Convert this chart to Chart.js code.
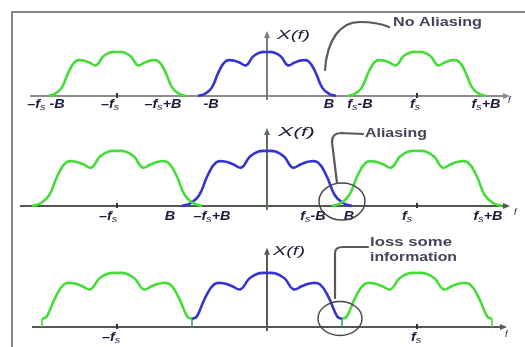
<!DOCTYPE html>
<html>
<head>
<meta charset="utf-8">
<script src="https://cdn.jsdelivr.net/npm/chart.js@4"></script>
<style>
html, body { margin: 0; padding: 0; background: #fff; overflow: hidden; }
#wrap { position: relative; width: 525px; height: 347px; overflow: hidden; background: #fff; }
.edge { position: absolute; background: #858585; }
canvas { position: absolute; left: 0; }
</style>
</head>
<body>
<div id="wrap">
    <div class="edge" style="left:11px;top:11px;width:2px;height:336px"></div>
    <div class="edge" style="left:11px;top:11px;width:514px;height:2px"></div>
    <canvas id="p1" width="525" height="115" style="top:0px"></canvas>
    <canvas id="p2" width="525" height="113" style="top:115px"></canvas>
    <canvas id="p3" width="525" height="119" style="top:228px"></canvas>
</div>
<script>
// spectrum shape of X(f): offset in units of B, amplitude relative to the peak
const shapeU = [-1, -0.9, -0.8, -0.7, -0.6, -0.5, -0.4, -0.3, -0.2, -0.1, 0, 0.1, 0.2, 0.3, 0.4, 0.5, 0.6, 0.7, 0.8, 0.9, 1];
const shapeA = [0, 0.05, 0.19, 0.55, 0.79, 0.81, 0.76, 0.70, 0.9, 0.99, 1, 0.99, 0.9, 0.70, 0.76, 0.81, 0.79, 0.55, 0.19, 0.05, 0];

const fs = 150;                 // sampling frequency
const bandB = [69, 85, 88];     // bandwidth B in each panel
const cut3 = fs / 2;            // panel 3: spectrum cut at fs/2
const edgeLevel3 = 0.15;        // height left at the cut

// tick labels ("_s" = small s)
const labels1 = ["–f_s -B", "–f_s", "–f_s+B", "-B", "B", "f_s-B", "f_s", "f_s+B"];
const labels2 = ["–f_s", "B", "–f_s+B", "f_s-B", "B", "f_s", "f_s+B"];
const labels3 = ["–f_s", "f_s"];

const GREEN = "#45dc38";
const BLUE = "#3434d0";
const TEAL = "#2f9a94";
const INK = "#1c1c3c";

function replica(center, B, color) {
    return {
        data: shapeU.map((u, i) => ({ x: center + u * B, y: shapeA[i] })),
        borderColor: color
    };
}

function cutReplica(center, B, color) {
    const pts = [{ x: center - cut3, y: edgeLevel3 }];
    shapeU.forEach((u, i) => {
        if (Math.abs(u * B) < cut3) pts.push({ x: center + u * B, y: shapeA[i] });
    });
    pts.push({ x: center + cut3, y: edgeLevel3 });
    return { data: pts, borderColor: color };
}

function drop(x, color) {
    return { data: [{ x: x, y: 0 }, { x: x, y: edgeLevel3 }], borderColor: color, borderWidth: 1.6, tension: 0 };
}

function drawRich(ctx, str, cx, cy, size, sx) {
    const parts = [];
    for (let i = 0; i < str.length; i++) {
        if (str[i] === '_') { parts.push({ t: str[i + 1], small: true }); i++; }
        else parts.push({ t: str[i], small: false });
    }
    const big = `italic bold ${size}px "Liberation Sans", Arial, sans-serif`;
    const small = `italic ${Math.round(size * 0.75)}px "Liberation Sans", Arial, sans-serif`;
    let w = 0;
    parts.forEach(p => { ctx.font = p.small ? small : big; p.w = ctx.measureText(p.t).width; w += p.w; });
    ctx.save();
    ctx.translate(cx, cy);
    ctx.scale(sx, 1);
    ctx.fillStyle = INK;
    ctx.textBaseline = 'middle';
    let x = -w / 2;
    parts.forEach(p => {
        ctx.font = p.small ? small : big;
        ctx.fillText(p.t, x, p.small ? 2 : 0);
        x += p.w;
    });
    ctx.restore();
}

function drawText(ctx, str, left, cy, size, width, color, weight) {
    ctx.save();
    ctx.font = `${weight || 'normal'} ${size}px "Liberation Sans", Arial, sans-serif`;
    const m = ctx.measureText(str).width;
    ctx.translate(left, cy);
    ctx.scale(width / m, 1);
    ctx.fillStyle = color;
    ctx.textBaseline = 'middle';
    ctx.fillText(str, 0, 0);
    ctx.restore();
}

function makeAxisPlugin(o) {
    return {
        id: 'axisPlugin',
        beforeDatasetsDraw(chart) {
            const ctx = chart.ctx, xs = chart.scales.x, ys = chart.scales.y;
            const y0 = ys.getPixelForValue(0);
            const xa = xs.getPixelForValue(o.from), xb = xs.getPixelForValue(o.to);
            const x0 = xs.getPixelForValue(0);
            const yt = ys.getPixelForValue(o.vTop);
            ctx.save();
            // horizontal axis
            ctx.strokeStyle = o.color; ctx.lineWidth = 2;
            ctx.beginPath(); ctx.moveTo(xa, y0); ctx.lineTo(xb - 3, y0); ctx.stroke();
            ctx.fillStyle = o.color;
            ctx.beginPath(); ctx.moveTo(xb + 2, y0); ctx.lineTo(xb - 5, y0 - 3); ctx.lineTo(xb - 5, y0 + 3); ctx.closePath(); ctx.fill();
            // vertical axis
            ctx.strokeStyle = o.vColor; ctx.lineWidth = 2;
            ctx.beginPath(); ctx.moveTo(x0, y0 + 4); ctx.lineTo(x0, yt + 3); ctx.stroke();
            ctx.fillStyle = o.vColor;
            ctx.beginPath(); ctx.moveTo(x0, yt - 2); ctx.lineTo(x0 - 3, yt + 5); ctx.lineTo(x0 + 3, yt + 5); ctx.closePath(); ctx.fill();
            // tick marks at -fs, fs
            ctx.fillStyle = '#333';
            [-fs, fs].forEach(v => {
                const px = xs.getPixelForValue(v);
                ctx.fillRect(px - 1, y0 - 3, 2, 5);
            });
            ctx.restore();
        },
        afterDatasetsDraw(chart) {
            const ctx = chart.ctx, xs = chart.scales.x, ys = chart.scales.y;
            const y0 = ys.getPixelForValue(0);
            const x0 = xs.getPixelForValue(0);
            // tick labels
            o.labels.forEach((t, i) => {
                drawRich(ctx, t, xs.getPixelForValue(o.at[i]) + o.dx[i], y0 + o.labelDy, 12, 1.2);
            });
            // small f at the arrow
            ctx.save();
            ctx.fillStyle = INK;
            ctx.font = 'italic 9px "Liberation Sans", Arial, sans-serif';
            ctx.textBaseline = 'middle';
            ctx.fillText('f', xs.getPixelForValue(o.to) + o.fDx, y0 + o.fDy);
            ctx.restore();
            // X(f)
            ctx.save();
            ctx.font = 'italic 12px "Liberation Sans", Arial, sans-serif';
            const mw = ctx.measureText('X(f)').width;
            ctx.translate(x0 + o.xfDx, ys.getPixelForValue(o.vTop) + o.xfDy);
            ctx.scale(o.xfW / mw, 1);
            ctx.fillStyle = INK;
            ctx.textBaseline = 'middle';
            ctx.fillText('X(f)', 0, 0);
            ctx.restore();
            // callout
            o.callout(ctx, xs.getPixelForValue(fs / 2), y0);
        }
    };
}

function baseOptions(ymin, ymax) {
    return {
        responsive: false,
        animation: false,
        events: [],
        layout: { padding: 0 },
        elements: {
            point: { radius: 0 },
            line: { borderWidth: 2.6, tension: 0.45, capBezierPoints: false }
        },
        scales: {
            x: { type: 'linear', display: false, min: -267, max: 258 },
            y: { type: 'linear', display: false, min: ymin, max: ymax }
        },
        plugins: { legend: { display: false }, tooltip: { enabled: false } }
    };
}

function calloutStroke(ctx) {
    ctx.strokeStyle = '#5a5a5a';
    ctx.lineWidth = 2.2;
    ctx.lineCap = 'round';
}

// panel 1: no aliasing
const B1 = bandB[0];
new Chart(document.getElementById('p1'), {
    type: 'line',
    data: { datasets: [replica(-fs, B1, GREEN), replica(fs, B1, GREEN), replica(0, B1, BLUE)] },
    options: baseOptions(-19 / 44, 96 / 44),
    plugins: [makeAxisPlugin({
        from: -237, to: 241, vTop: 1.43, color: '#8c8c8c', vColor: '#7a7a7a',
        labels: labels1,
        at: [-fs - B1, -fs, -fs + B1, -B1, B1, fs - B1, fs, fs + B1],
        dx: [-2, -7, -23, 13, -7, 12, -2, 0],
        labelDy: 9, fDx: 0, fDy: 4,
        xfDx: 10, xfDy: 3, xfW: 33,
        callout(ctx, ax, y0) {
            ctx.save();
            calloutStroke(ctx);
            ctx.beginPath();
            ctx.moveTo(ax - 17, y0 - 26);
            ctx.bezierCurveTo(ax - 15, y0 - 56, ax - 2, y0 - 74, ax + 18, y0 - 74);
            ctx.quadraticCurveTo(ax + 35, y0 - 74, ax + 47, y0 - 69);
            ctx.stroke();
            ctx.restore();
            drawText(ctx, 'No Aliasing', ax + 51, y0 - 73, 12, 89, '#44445a', 'bold');
        }
    })]
});

// panel 2: aliasing
const B2 = bandB[1];
new Chart(document.getElementById('p2'), {
    type: 'line',
    data: { datasets: [replica(-fs, B2, GREEN), replica(fs, B2, GREEN), replica(0, B2, BLUE)] },
    options: baseOptions(-22 / 55, 91 / 55),
    plugins: [makeAxisPlugin({
        from: -247, to: 241, vTop: 1.38, color: '#505a50', vColor: '#5a6e5a',
        labels: labels2,
        at: [-fs, -B2, -fs + B2, fs - B2, B2, fs, fs + B2],
        dx: [-9, -12, 10, -19, -3, -10, -14],
        labelDy: 11, fDx: 6, fDy: 6,
        xfDx: 11, xfDy: 3, xfW: 37,
        callout(ctx, ax, y0) {
            ctx.save();
            ctx.strokeStyle = '#444'; ctx.lineWidth = 1.4;
            ctx.beginPath(); ctx.ellipse(ax, y0 - 4.5, 23, 18.5, 0, 0, Math.PI * 2); ctx.stroke();
            calloutStroke(ctx);
            ctx.beginPath();
            ctx.moveTo(ax - 5, y0 - 23);
            ctx.lineTo(ax - 10, y0 - 64);
            ctx.quadraticCurveTo(ax - 10, y0 - 73, ax - 1, y0 - 73);
            ctx.lineTo(ax + 21, y0 - 72);
            ctx.stroke();
            ctx.restore();
            drawText(ctx, 'Aliasing', ax + 23, y0 - 72, 12, 62, '#44445a', 'bold');
        }
    })]
});

// panel 3: spectrum cut at fs/2, some information lost
const B3 = bandB[2];
new Chart(document.getElementById('p3'), {
    type: 'line',
    data: {
        datasets: [
            cutReplica(-fs, B3, GREEN), cutReplica(fs, B3, GREEN), cutReplica(0, B3, BLUE),
            drop(-fs - cut3, GREEN), drop(fs + cut3, GREEN), drop(-cut3, TEAL), drop(cut3, TEAL)
        ]
    },
    options: baseOptions(-20 / 54, 99 / 54),
    plugins: [makeAxisPlugin({
        from: -235, to: 238, vTop: 1.43, color: '#505a50', vColor: '#5a5a5a',
        labels: labels3,
        at: [-fs, fs],
        dx: [-6, -1],
        labelDy: 11, fDx: 0, fDy: 7,
        xfDx: 6, xfDy: 2, xfW: 32,
        callout(ctx, ax, y0) {
            ctx.save();
            ctx.strokeStyle = '#444'; ctx.lineWidth = 1.4;
            ctx.beginPath(); ctx.ellipse(ax - 2, y0 - 8.5, 22, 17, 0, 0, Math.PI * 2); ctx.stroke();
            calloutStroke(ctx);
            ctx.beginPath();
            ctx.moveTo(ax - 7, y0 - 29);
            ctx.lineTo(ax - 7, y0 - 74);
            ctx.quadraticCurveTo(ax - 7, y0 - 80, ax + 1, y0 - 80);
            ctx.lineTo(ax + 26, y0 - 80);
            ctx.stroke();
            ctx.restore();
            drawText(ctx, 'loss some', ax + 28, y0 - 84, 12, 82, '#44445a', 'bold');
            drawText(ctx, 'information', ax + 28, y0 - 69, 12, 87, '#44445a', 'bold');
        }
    })]
});
</script>
</body>
</html>
